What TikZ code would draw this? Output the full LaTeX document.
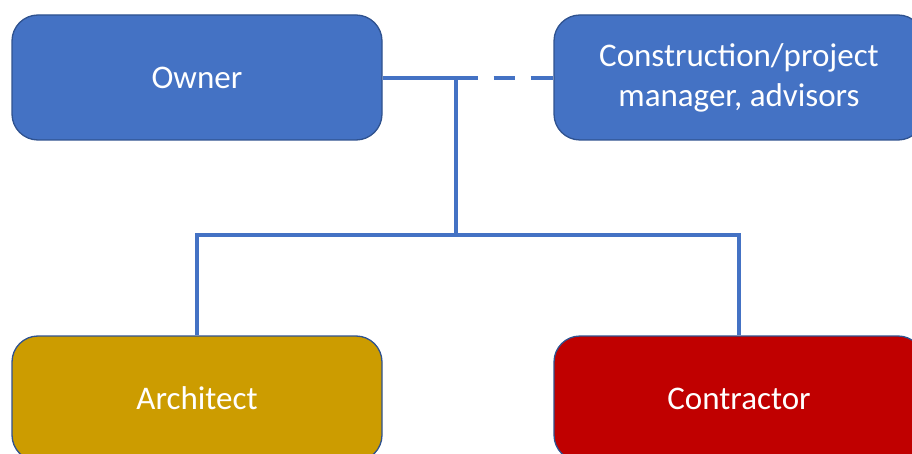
\documentclass[tikz,border=0pt]{standalone}
\usepackage{fontspec}
\setmainfont{Carlito}
\definecolor{boxblue}{HTML}{4472C4}
\definecolor{edgeblue}{HTML}{2F528F}
\definecolor{gold}{HTML}{CC9C00}
\definecolor{darkred}{HTML}{C00000}
\begin{document}
\begin{tikzpicture}[x=1pt,y=-1pt,
  orgbox/.style={draw=edgeblue,line width=1.3pt,rounded corners=26pt,
    minimum width=370pt,minimum height=125pt,inner sep=0pt,
    text=white,align=center,font=\fontsize{33}{40}\selectfont},
  link/.style={draw=boxblue,line width=4.8pt}]
\useasboundingbox (0,0) rectangle (912,454);
\clip (0,0) rectangle (912,454);
\node[orgbox,fill=boxblue] (owner) at (197,77.5) {Owner};
\node[orgbox,fill=boxblue] (cm) at (739,77.5) {Construction/project\\manager, advisors};
\node[orgbox,fill=gold] (arch) at (197,398.5) {Architect};
\node[orgbox,fill=darkred] (contr) at (739,398.5) {Contractor};
\coordinate (j) at (456,78);
\coordinate (h) at (456,235);
\draw[link,dash pattern=on 95pt off 16pt on 21pt off 16pt on 30pt] (owner.east |- j) -- (cm.west |- j);
\draw[link] (j) -- (h);
\draw[link] (arch.north) |- (h) -| (contr.north);
\end{tikzpicture}
\end{document}
